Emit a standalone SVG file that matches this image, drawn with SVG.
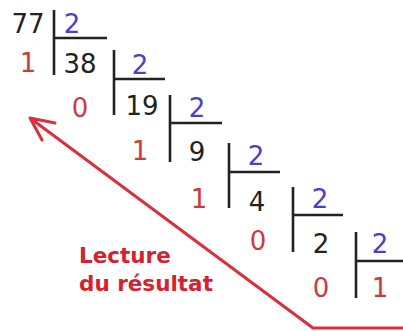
<svg xmlns="http://www.w3.org/2000/svg" width="403" height="331" viewBox="0 0 403 331">
<style>
.d{font-family:"DejaVu Sans",Verdana,sans-serif;font-size:26px;text-anchor:middle}
.k{fill:#222}
.b{fill:#4b3fcf}
.r{fill:#cc3a3e}
.bar{stroke:#222;stroke-width:2.6;fill:none}
.lbl{font-family:"DejaVu Sans",Verdana,sans-serif;font-size:21.5px;font-weight:bold;fill:#d4222f}
.arr{stroke:#d9303a;stroke-width:3;fill:none;stroke-linejoin:round;stroke-linecap:round}
</style>
<rect width="403" height="331" fill="#fff"/>
<g id="step1">
<path class="bar" d="M54 10V75M54 38H107"/>
<text class="d k" x="28" y="33">77</text>
<text class="d b" x="72" y="33">2</text>
<text class="d r" x="28" y="72">1</text>
<text class="d k" x="80" y="73">38</text>
</g>
<g id="step2">
<path class="bar" d="M114 50V115M114 79H165"/>
<text class="d b" x="140" y="74">2</text>
<text class="d r" x="80" y="117">0</text>
<text class="d k" x="142" y="115">19</text>
</g>
<g id="step3">
<path class="bar" d="M170 95V162M170 123H222"/>
<text class="d b" x="197" y="117">2</text>
<text class="d r" x="140" y="160">1</text>
<text class="d k" x="197" y="161">9</text>
</g>
<g id="step4">
<path class="bar" d="M229 143V208M229 172H280"/>
<text class="d b" x="256" y="165">2</text>
<text class="d r" x="199" y="208">1</text>
<text class="d k" x="257" y="211">4</text>
</g>
<g id="step5">
<path class="bar" d="M293 187V252M293 215H343"/>
<text class="d b" x="320" y="208">2</text>
<text class="d r" x="258" y="250">0</text>
<text class="d k" x="321" y="253">2</text>
</g>
<g id="step6">
<path class="bar" d="M356 232V298M356 261H403"/>
<text class="d b" x="380" y="253">2</text>
<text class="d r" x="321" y="297">0</text>
<text class="d r" x="380" y="297">1</text>
</g>
<g id="connectors">
<path class="arr" d="M404 328H313L30 118M55 123L30 118L42 140"/>
</g>
<g id="label">
<text class="lbl" x="79" y="263">Lecture</text>
<text class="lbl" x="79" y="291">du résultat</text>
</g>
</svg>
